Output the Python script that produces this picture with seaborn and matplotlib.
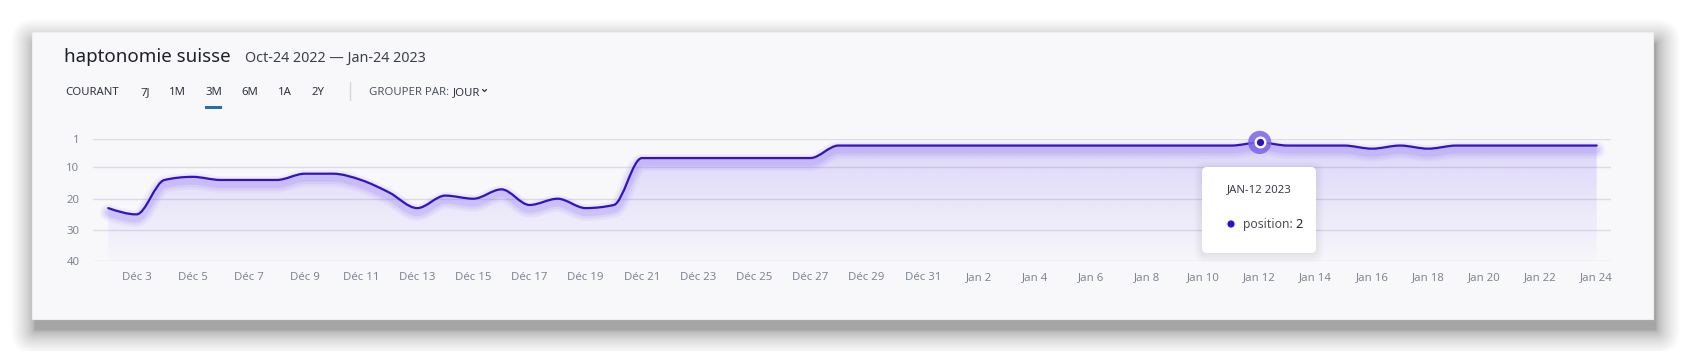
import numpy as np
import pandas as pd
import matplotlib
matplotlib.use('Agg')
import matplotlib.pyplot as plt
import matplotlib.dates as mdates
from matplotlib.path import Path
from matplotlib.patches import PathPatch, FancyBboxPatch, Rectangle, Circle
from matplotlib.transforms import offset_copy
import seaborn as sns

# #
# Data
start_date = '2022-12-02'
positions = [23, 25, 14, 13, 14, 14, 14, 12, 12, 14,
             18, 23, 19, 20, 17, 22, 20, 23, 22, 7,
             7, 7, 7, 7, 7, 7, 3, 3, 3, 3,
             3, 3, 3, 3, 3, 3, 3, 3, 3, 3, 3, 2,
             3, 3, 3, 4, 3, 4, 3, 3, 3, 3, 3, 3]
y_ticks = [1, 10, 20, 30, 40]
month_names = {12: 'Déc', 1: 'Jan'}
highlight_date = '2023-01-12'
highlight_value = 2

title = 'haptonomie suisse'
date_range = 'Oct-24 2022 \u2014 Jan-24 2023'
tabs = ['COURANT', '7J', '1M', '3M', '6M', '1A', '2Y']
tooltip_title = 'JAN-12 2023'

dates = pd.date_range(start_date, periods=len(positions), freq='D')
tick_dates = dates[1::2]
tick_labels = [f'{month_names[d.month]} {d.day}' for d in tick_dates]

W, H = 1685, 351
LINE = '#3412c4'
GLOW = '#8f72f5'
PANEL = '#f8f8fb'

sns.set_theme(style='white')
plt.rcParams['font.family'] = ['Noto Sans', 'DejaVu Sans']


# Monotone cubic curve (same as d3 curveMonotoneX), drawn as bezier segments
def monotone_tangents(x, y):
    h = np.diff(x)
    s = np.diff(y) / h
    m = np.zeros(len(y))
    for i in range(1, len(y) - 1):
        s0, s1 = s[i - 1], s[i]
        p = (s0 * h[i] + s1 * h[i - 1]) / (h[i - 1] + h[i])
        m[i] = (np.sign(s0) + np.sign(s1)) * min(abs(s0), abs(s1), 0.5 * abs(p))
    m[0] = (3 * s[0] - m[1]) / 2
    m[-1] = (3 * s[-1] - m[-2]) / 2
    return m

def curve_verts(x, y):
    m = monotone_tangents(x, y)
    verts = [(x[0], y[0])]
    codes = [Path.MOVETO]
    for i in range(len(x) - 1):
        dx = (x[i + 1] - x[i]) / 3
        verts += [(x[i] + dx, y[i] + m[i] * dx),
                  (x[i + 1] - dx, y[i + 1] - m[i + 1] * dx),
                  (x[i + 1], y[i + 1])]
        codes += [Path.CURVE4] * 3
    return verts, codes


fig = plt.figure(figsize=(W / 100, H / 100), dpi=100)
fig.patch.set_facecolor('white')

# background layer: panel, shadow, header
ax_bg = fig.add_axes([0, 0, 1, 1], zorder=0)
ax_bg.set_xlim(0, W)
ax_bg.set_ylim(H, 0)
ax_bg.axis('off')

px0, py0, px1, py1 = 32, 32, 1653, 319
for pad in 24 * np.linspace(1, 0, 45) ** 1.7:
    ax_bg.add_patch(FancyBboxPatch((px0 - pad + 3, py0 - pad + 11), (px1 - px0) + 2 * pad, (py1 - py0) + 2 * pad,
                                   boxstyle=f'round,pad=0,rounding_size={pad + 0.1}',
                                   facecolor='black', edgecolor='none', alpha=0.0088))
ax_bg.add_patch(Rectangle((px0, py0), px1 - px0, py1 - py0, facecolor=PANEL, edgecolor='#eeeef2', lw=0.8))

ax_bg.text(64, 62, title, fontsize=13.5, color='#1e2126', va='baseline')
ax_bg.text(245, 62, date_range, fontsize=10.3, color='#3b4049', va='baseline')

tab_x = [65, 140, 169, 205, 241, 278, 311]
for label, x in zip(tabs, tab_x):
    ax_bg.text(x, 95, label, fontsize=8.2, color='#2f343c', va='baseline')
ax_bg.add_patch(Rectangle((205, 106.3), 17, 2.4, facecolor='#1f6fb5', edgecolor='none'))
ax_bg.plot([349.5, 349.5], [82, 100], color='#d3d5da', lw=1)
ax_bg.text(369, 95, 'GROUPER PAR:', fontsize=8.2, color='#4f5661', va='baseline')
ax_bg.text(453, 95, 'JOUR', fontsize=8.2, color='#2f343c', va='baseline')
ax_bg.plot([482.5, 484.5, 486.5], [89.5, 91.5, 89.5], color='#2f343c', lw=0.9)

# chart axes
ax = fig.add_axes([93.3 / W, 1 - 261.3 / H, (1610.7 - 93.3) / W, (261.3 - 139.3) / H], zorder=1)
ax.set_facecolor('none')

x = mdates.date2num(dates)
y = np.array(positions, dtype=float)
x_left = x[0] - 15 / 28.08
x_right = x[-1] + 14 / 28.08

verts, codes = curve_verts(x, y)

# gradient area under the curve
area_path = Path(verts + [(x[-1], 40), (x[0], 40), (x[0], y[0])],
                 codes + [Path.LINETO, Path.LINETO, Path.CLOSEPOLY])
area_patch = PathPatch(area_path, facecolor='none', edgecolor='none')
ax.add_patch(area_patch)
grad = np.zeros((256, 1, 4))
grad[:, 0, 0] = 123 / 255
grad[:, 0, 1] = 92 / 255
grad[:, 0, 2] = 240 / 255
grad[:, 0, 3] = np.linspace(0.23, 0.01, 256)
img = ax.imshow(grad, extent=[x[0], x[-1], 40, 1], aspect='auto', origin='upper', zorder=1)
img.set_clip_path(area_patch)

# glow under the line
glow_tr = offset_copy(ax.transData, fig=fig, x=0, y=-4.5, units='dots')
for lw, a in [(12, 0.08), (8.5, 0.11), (5, 0.16)]:
    ax.add_patch(PathPatch(Path(verts, codes), fill=False, edgecolor=GLOW, lw=lw, alpha=a,
                           capstyle='round', joinstyle='round', transform=glow_tr, zorder=2))

ax.add_patch(PathPatch(Path(verts, codes), fill=False, edgecolor=LINE, lw=1.6,
                       capstyle='round', joinstyle='round', zorder=4))

# highlighted point
hx = mdates.date2num(pd.Timestamp(highlight_date))
sns.scatterplot(x=[hx], y=[highlight_value], s=280, color='#7d63e8', alpha=0.85, edgecolor='none',
                ax=ax, zorder=5, clip_on=False, legend=False)
sns.scatterplot(x=[hx], y=[highlight_value], s=48, color='#2e10c8', edgecolor='white', linewidth=1.7,
                ax=ax, zorder=6, clip_on=False, legend=False)

ax.set_xlim(x_left, x_right)
ax.set_ylim(40, 1)
ax.set_yticks(y_ticks)
ax.set_xticks(mdates.date2num(tick_dates))
ax.set_xticklabels(tick_labels)
ax.grid(axis='y', color='#dcdce4', lw=1)
ax.grid(axis='x', visible=False)
ax.set_axisbelow(True)
for side in ['top', 'right', 'left', 'bottom']:
    ax.spines[side].set_visible(False)
ax.tick_params(axis='x', length=0, pad=7.5, labelsize=8.2, labelcolor='#7d8794')
ax.tick_params(axis='y', length=0, pad=10, labelsize=8.2, labelcolor='#7d8794')

# tooltip layer
ax_top = fig.add_axes([0, 0, 1, 1], zorder=3)
ax_top.set_xlim(0, W)
ax_top.set_ylim(H, 0)
ax_top.axis('off')
ax_top.patch.set_alpha(0)
tx, ty, tw, th = 1202, 167, 114, 86
for pad in np.linspace(8, 0, 9):
    ax_top.add_patch(FancyBboxPatch((tx - pad, ty - pad + 2), tw + 2 * pad, th + 2 * pad,
                                    boxstyle=f'round,pad=0,rounding_size={5 + pad}',
                                    facecolor='#6b6f80', edgecolor='none', alpha=0.012))
ax_top.add_patch(FancyBboxPatch((tx, ty), tw, th, boxstyle='round,pad=0,rounding_size=5',
                                facecolor='white', edgecolor='none'))
ax_top.text(1227, 190, tooltip_title, fontsize=8.2, color='#3a3f47', va='center')
ax_top.add_patch(Circle((1231, 224), 3.6, facecolor='#2a0fd0', edgecolor='none'))
ax_top.text(1243, 224.5, 'position:', fontsize=8.8, color='#4a4f57', va='center')
ax_top.text(1295, 224.5, str(highlight_value), fontsize=9.2, color='#222428', va='center')

plt.savefig('out.png', dpi=100, facecolor='white')
plt.close()
